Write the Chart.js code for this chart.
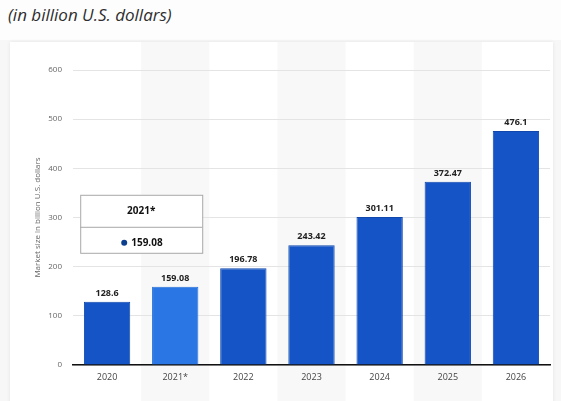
<!DOCTYPE html>
<html>
<head>
<meta charset="utf-8">
<script src="https://cdn.jsdelivr.net/npm/chart.js@4"></script>
<style>
  html, body { margin:0; padding:0; width:561px; height:401px; overflow:hidden; background:#f7f7f7; font-family:"Open Sans", sans-serif; }
  #top { position:absolute; left:0; top:0; width:561px; height:40px; background:#fdfdfd; }
  #title { position:absolute; left:8px; top:3px; font-size:17px; font-style:italic; color:#2e2e2e; white-space:nowrap; }
  #card { position:absolute; left:10px; top:42px; width:543px; height:370px; background:#fff; box-shadow:0 0 4px rgba(0,0,0,0.08); }
  #wrap { position:absolute; left:0; top:0; width:561px; height:401px; }
</style>
</head>
<body>
<div id="top"></div>
<div id="title">(in billion U.S. dollars)</div>
<div id="card"></div>
<div id="wrap"><canvas id="c"></canvas></div>
<script>
const categories = ["2020", "2021*", "2022", "2023", "2024", "2025", "2026"];
const marketSize = [128.6, 159.08, 196.78, 243.42, 301.11, 372.47, 476.1];
const yTicks = [0, 100, 200, 300, 400, 500, 600];
const yAxisTitle = "Market size in billion U.S. dollars";
const highlightIndex = 1;

const FONT = '"Open Sans", sans-serif';

const bandsPlugin = {
  id: 'bands',
  beforeDraw(chart) {
    const { ctx, chartArea, scales } = chart;
    const x = scales.x;
    const step = (chartArea.right - chartArea.left) / categories.length;
    ctx.save();
    ctx.fillStyle = '#f8f8f8';
    categories.forEach((c, i) => {
      if (i % 2 === 1) {
        const cx = x.getPixelForValue(i);
        ctx.fillRect(cx - step / 2, 42, step, 401 - 42);
      }
    });
    ctx.restore();
  }
};

const labelsPlugin = {
  id: 'valueLabels',
  afterDatasetsDraw(chart) {
    const { ctx } = chart;
    const meta = chart.getDatasetMeta(0);
    ctx.save();
    ctx.font = 'bold 9px ' + FONT;
    ctx.fillStyle = '#222';
    ctx.textAlign = 'center';
    ctx.textBaseline = 'bottom';
    meta.data.forEach((bar, i) => {
      ctx.fillText(String(marketSize[i]), bar.x, bar.y - 4);
    });
    ctx.restore();
  }
};

const tipPlugin = {
  id: 'fixedTip',
  afterDraw(chart) {
    const { ctx } = chart;
    const bar = chart.getDatasetMeta(0).data[highlightIndex];
    const w = 122, h = 58;
    const left = bar.x - 95, top = bar.y - 92;
    ctx.save();
    ctx.fillStyle = '#ffffff';
    ctx.fillRect(left, top, w, h);
    ctx.strokeStyle = '#a8a8a8';
    ctx.lineWidth = 1;
    ctx.strokeRect(left + 0.5, top + 0.5, w, h);
    ctx.beginPath();
    ctx.moveTo(left, top + 32.5);
    ctx.lineTo(left + w, top + 32.5);
    ctx.stroke();
    ctx.fillStyle = '#111';
    ctx.font = 'bold 10px ' + FONT;
    ctx.textAlign = 'center';
    ctx.textBaseline = 'middle';
    ctx.fillText(categories[highlightIndex], left + w / 2, top + 16);
    ctx.font = 'bold 10px ' + FONT;
    ctx.textAlign = 'left';
    ctx.fillText(String(marketSize[highlightIndex]), left + 51, top + 48);
    ctx.fillStyle = '#0d3f8f';
    ctx.beginPath();
    ctx.arc(left + 44, top + 48, 3, 0, Math.PI * 2);
    ctx.fill();
    ctx.restore();
  }
};

new Chart(document.getElementById('c'), {
  type: 'bar',
  data: {
    labels: categories,
    datasets: [{
      data: marketSize,
      backgroundColor: marketSize.map((v, i) => i === highlightIndex ? '#2a76e4' : '#1454c6'),
      borderColor: marketSize.map((v, i) => i === highlightIndex ? '#2a70d8' : '#0f47ad'),
      borderWidth: 1,
      barPercentage: 0.68,
      categoryPercentage: 1.0
    }]
  },
  options: {
    responsive: true,
    maintainAspectRatio: false,
    animation: false,
    devicePixelRatio: 1,
    layout: { padding: { left: 33, right: 11, top: 70, bottom: 16 } },
    plugins: { legend: { display: false }, tooltip: { enabled: false }, title: { display: false } },
    scales: {
      x: {
        grid: { display: false, drawTicks: false },
        border: { display: true, color: '#111', width: 1.5 },
        ticks: { color: '#444', font: { family: FONT, size: 9 }, padding: 7 },
        afterFit(scale) { scale.height = 20; }
      },
      y: {
        min: 0, max: 600,
        afterBuildTicks(scale) { scale.ticks = yTicks.map(v => ({ value: v })); },
        afterFit(scale) { scale.width = 40; },
        grid: { color: '#e4e4e4', drawTicks: false, lineWidth: 1 },
        border: { display: false },
        ticks: { color: '#666', font: { family: FONT, size: 8 }, padding: 11 },
        title: { display: true, text: yAxisTitle, color: '#666', font: { family: FONT, size: 8 }, padding: { top: 0, bottom: 0 } }
      }
    }
  },
  plugins: [bandsPlugin, labelsPlugin, tipPlugin]
});
</script>
</body>
</html>
